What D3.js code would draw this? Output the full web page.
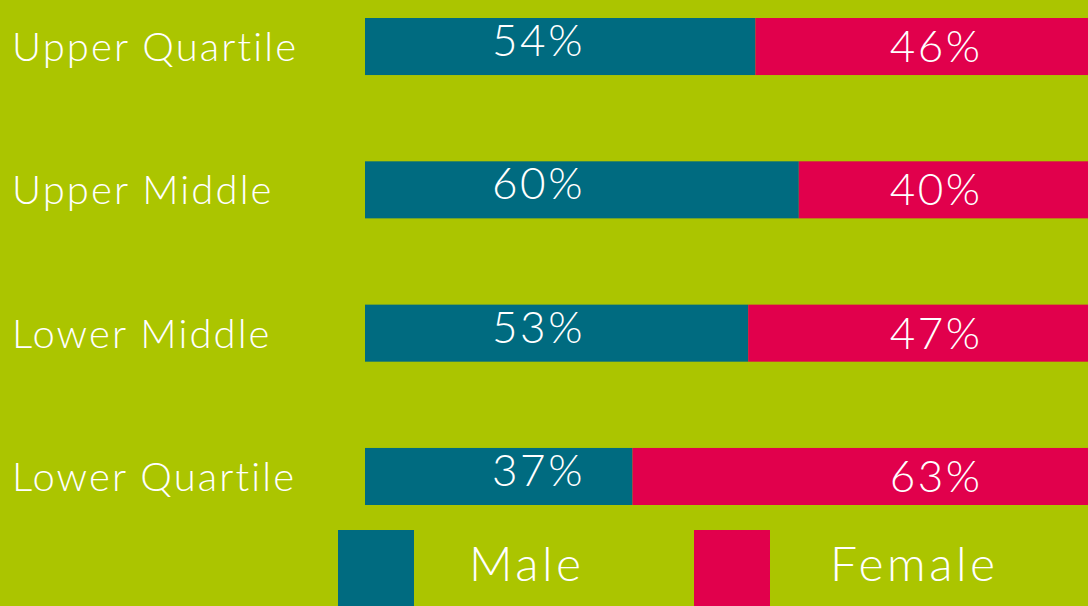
<!DOCTYPE html>
<meta charset="utf-8">
<head>
<style>
body{ margin:0; background:#abc500; }
text{ font-family:Lato, "Open Sans", sans-serif; fill:#fff; }
.cat{ font-size:40px; font-weight:300; letter-spacing:2.1px; }
.perc{ font-size:44px; font-weight:300; text-anchor:middle; letter-spacing:2.5px; }
.leg{ font-size:48px; font-weight:300; letter-spacing:3.5px; }
</style>
</head>
<body>
<script src="https://d3js.org/d3.v7.min.js"></script>
<script>

var categories = ["Upper Quartile","Upper Middle","Lower Middle","Lower Quartile"];
var male   = [54, 60, 53, 37];
var female = [46, 40, 47, 63];
var series = ["Male","Female"];
var color = {Male:"#006b80", Female:"#e1004c"};

var W = 1088, H = 606;
var svg = d3.select("body").append("svg").attr("width", W).attr("height", H);
svg.append("rect").attr("width", W).attr("height", H).attr("fill", "#abc500");

var x = d3.scaleLinear().domain([0,100]).range([365, W]);
var y = d3.scaleBand().domain(categories).range([18, 505]).paddingInner(0.602).paddingOuter(0);

var rows = categories.map(function(c,i){ return {cat:c, m:male[i], f:female[i]}; });

var g = svg.selectAll(".row").data(rows).enter().append("g").attr("class","row")
	.attr("transform", d=>"translate(0,"+y(d.cat)+")");

g.append("rect").attr("x", x(0)).attr("width", d=>x(d.m)-x(0))
	.attr("height", y.bandwidth()).attr("fill", color.Male);
g.append("rect").attr("x", d=>x(d.m)).attr("width", d=>x(d.m+d.f)-x(d.m))
	.attr("height", y.bandwidth()).attr("fill", color.Female);

g.append("text").attr("class","cat").attr("x", 12).attr("y", 43).text(d=>d.cat);
g.append("text").attr("class","perc").attr("x", x(24)).attr("y", 38).text(d=>d.m+"%");
g.append("text").attr("class","perc").attr("x", x(79)).attr("y", 44).text(d=>d.f+"%");

// legend
var leg = svg.selectAll(".leg").data(series).enter().append("g")
	.attr("transform", (d,i)=>"translate("+(338+i*356)+",530)");
leg.append("rect").attr("width", 76).attr("height", 76).attr("fill", d=>color[d]);
leg.append("text").attr("class","leg").attr("x", (d,i)=>131+i*5).attr("y", 51).text(d=>d);

</script>
</body>
</html>
